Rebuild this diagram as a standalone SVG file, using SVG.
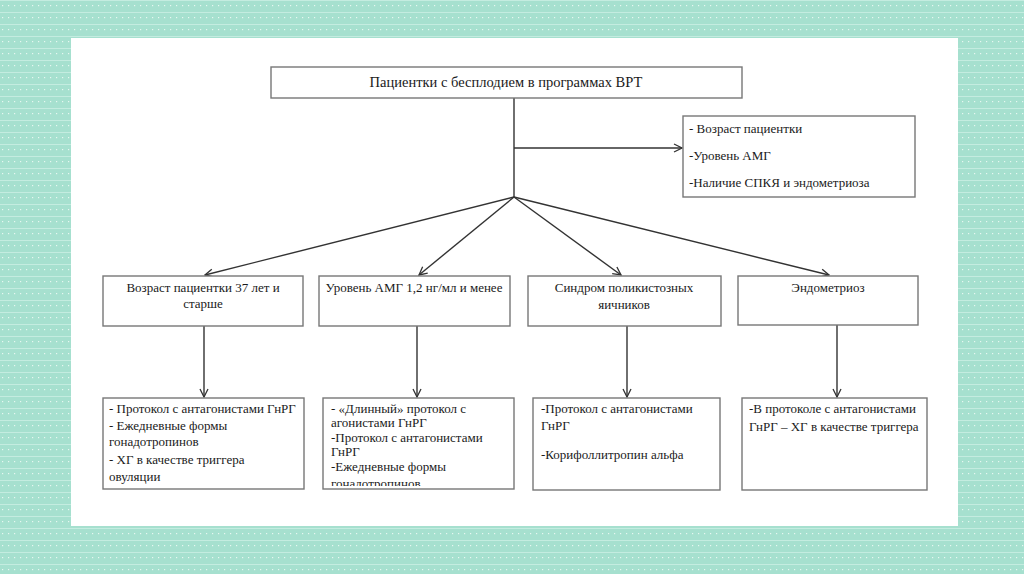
<svg xmlns="http://www.w3.org/2000/svg" width="1024" height="574" viewBox="0 0 1024 574">
<defs>
<pattern id="bg" width="6" height="12" patternUnits="userSpaceOnUse">
<rect width="6" height="12" fill="#a6e0cf"/>
<rect x="0" y="0" width="6" height="1" fill="#c4ece0"/>
<rect x="2" y="5" width="1.2" height="1.2" fill="#e6f7f1"/>
</pattern>
<marker id="ah" markerWidth="10" markerHeight="10" refX="9" refY="5" orient="auto" markerUnits="userSpaceOnUse">
<path d="M1,1 L9,5 L1,9" fill="none" stroke="#333" stroke-width="1.3"/>
</marker>
<clipPath id="clipL2"><rect x="323" y="398" width="191" height="88"/></clipPath>
</defs>
<style>
.box{fill:#fff;stroke:#777;stroke-width:1.4}
.t{font-family:"Liberation Serif","Times New Roman",serif;font-size:13px;fill:#1a1a1a}
.c{text-anchor:middle}
.ln{stroke:#333;stroke-width:1.4;fill:none}
.arr{stroke:#333;stroke-width:1.4;fill:none;marker-end:url(#ah)}
</style>
<rect width="1024" height="574" fill="url(#bg)"/>
<rect x="71" y="38" width="887" height="488" fill="#fff"/>

<g id="connectors">
<line class="ln" x1="514" y1="98" x2="514" y2="197"/>
<line class="arr" x1="514" y1="148" x2="682" y2="148"/>
<line class="arr" x1="514" y1="197" x2="205" y2="275"/>
<line class="arr" x1="514" y1="197" x2="419" y2="275"/>
<line class="arr" x1="514" y1="197" x2="621" y2="275"/>
<line class="arr" x1="514" y1="197" x2="829" y2="275"/>
<line class="arr" x1="204" y1="326" x2="204" y2="397"/>
<line class="arr" x1="417" y1="326" x2="417" y2="397"/>
<line class="arr" x1="627" y1="326" x2="627" y2="397"/>
<line class="arr" x1="837" y1="325" x2="837" y2="397"/>
</g>

<g id="root">
<rect class="box" x="271" y="67" width="471" height="31"/>
<text class="t c" x="506" y="87" style="font-size:14.5px">Пациентки с бесплодием в программах ВРТ</text>
</g>

<g id="factors">
<rect class="box" x="683" y="116" width="232" height="81"/>
<text class="t" x="689" y="133">- Возраст пациентки</text>
<text class="t" x="689" y="160">-Уровень АМГ</text>
<text class="t" x="689" y="187">-Наличие СПКЯ и эндометриоза</text>
</g>

<g id="age">
<rect class="box" x="103" y="276" width="200" height="50"/>
<text class="t c" x="203" y="292">Возраст пациентки 37 лет и</text>
<text class="t c" x="203" y="308">старше</text>
</g>

<g id="amg">
<rect class="box" x="319" y="276" width="191" height="50"/>
<text class="t c" x="414" y="292">Уровень АМГ 1,2 нг/мл и менее</text>
</g>

<g id="pcos">
<rect class="box" x="528" y="276" width="193" height="50"/>
<text class="t c" x="624" y="292">Синдром поликистозных</text>
<text class="t c" x="624" y="309">яичников</text>
</g>

<g id="endo">
<rect class="box" x="738" y="276" width="180" height="49"/>
<text class="t c" x="828" y="292">Эндометриоз</text>
</g>

<g id="age-tx">
<rect class="box" x="103" y="398" width="201" height="91"/>
<text class="t" x="109" y="413">- Протокол с антагонистами ГнРГ</text>
<text class="t" x="109" y="430">- Ежедневные формы</text>
<text class="t" x="109" y="446">гонадотропинов</text>
<text class="t" x="109" y="464">- ХГ в качестве триггера</text>
<text class="t" x="109" y="481">овуляции</text>
</g>

<g id="amg-tx">
<rect class="box" x="323" y="398" width="191" height="91"/>
<g clip-path="url(#clipL2)">
<text class="t" x="331" y="413">- «Длинный» протокол с</text>
<text class="t" x="331" y="427">агонистами ГнРГ</text>
<text class="t" x="331" y="442">-Протокол с антагонистами</text>
<text class="t" x="331" y="456">ГнРГ</text>
<text class="t" x="331" y="471">-Ежедневные формы</text>
<text class="t" x="331" y="488">гонадотропинов</text>
</g>
</g>

<g id="pcos-tx">
<rect class="box" x="533" y="398" width="187" height="92"/>
<text class="t" x="541" y="413">-Протокол с антагонистами</text>
<text class="t" x="541" y="430">ГнРГ</text>
<text class="t" x="541" y="459">-Корифоллитропин альфа</text>
</g>

<g id="endo-tx">
<rect class="box" x="742" y="398" width="185" height="92"/>
<text class="t" x="749" y="413">-В протоколе с антагонистами</text>
<text class="t" x="749" y="431">ГнРГ – ХГ в качестве триггера</text>
</g>
</svg>
